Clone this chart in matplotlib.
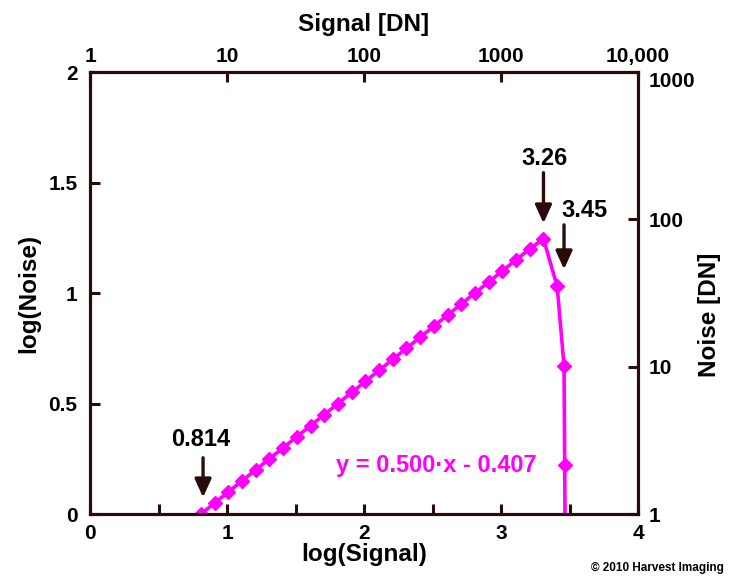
import matplotlib.pyplot as plt
from matplotlib.ticker import MultipleLocator

plt.rcParams['font.family'] = ['Liberation Sans', 'DejaVu Sans']
plt.rcParams['font.weight'] = 'bold'

# log(Signal) / log(Noise) points
log_signal = [0.81, 0.91, 1.01, 1.11, 1.21, 1.31, 1.41, 1.51, 1.61, 1.71,
              1.81, 1.91, 2.01, 2.11, 2.21, 2.31, 2.41, 2.51, 2.61, 2.71,
              2.81, 2.91, 3.01, 3.11, 3.21, 3.31, 3.41, 3.46, 3.465, 3.47]
log_noise = [0.0, 0.05, 0.10, 0.15, 0.20, 0.25, 0.30, 0.35, 0.40, 0.45,
             0.50, 0.55, 0.60, 0.65, 0.70, 0.75, 0.80, 0.85, 0.90, 0.95,
             1.00, 1.05, 1.10, 1.15, 1.20, 1.245, 1.03, 0.67, 0.22, -0.3]

top_ticks = [0, 1, 2, 3, 4]
top_labels = ['1', '10', '100', '1000', '10,000']
right_ticks = [0, 1, 2, 3]
right_labels = ['1', '10', '100', '1000']

# annotations: (label, arrow x, tail y, head y, text x, text y)
marks = [('0.814', 0.825, 0.267, 0.063, 0.81, 0.335),
         ('3.26', 3.31, 1.557, 1.303, 3.32, 1.61),
         ('3.45', 3.46, 1.321, 1.095, 3.61, 1.375)]

dark = '#2a0a0a'
mag = '#ff00ff'

fig = plt.figure(figsize=(7.38, 5.81), dpi=100)
ax = fig.add_axes([0.122, 0.1153, 0.7425, 0.7607])

ax.plot(log_signal, log_noise, color=mag, linewidth=2.6, marker='D',
        markersize=7, markerfacecolor=mag, markeredgecolor=mag, zorder=3)

ax.set_xlim(0, 4)
ax.set_ylim(0, 2)
ax.xaxis.set_major_locator(MultipleLocator(1))
ax.xaxis.set_minor_locator(MultipleLocator(0.5))
ax.set_yticks([0, 0.5, 1, 1.5, 2])
ax.set_yticklabels(['0', '0.5', '1', '1.5', '2'])
ax.tick_params(axis='both', which='both', direction='in', length=7,
               width=2.2, color=dark, labelsize=15)
ax.tick_params(axis='x', pad=7)
ax.tick_params(axis='y', pad=9)
ax.set_xlabel('log(Signal)', fontsize=17.5, fontweight='bold', labelpad=0)
ax.set_ylabel('log(Noise)', fontsize=17.5, fontweight='bold', labelpad=6)

for s in ax.spines.values():
    s.set_linewidth(2.2)
    s.set_color(dark)

# top axis: signal in DN
axt = ax.twiny()
axt.set_xlim(0, 4)
axt.set_xticks(top_ticks)
axt.set_xticklabels(top_labels)
axt.tick_params(axis='x', direction='in', length=7, width=2.2, color=dark,
                labelsize=15, pad=4)
axt.set_xlabel('Signal [DN]', fontsize=17.5, fontweight='bold', labelpad=12)

# right axis: noise in DN
axr = ax.twinx()
axr.set_ylim(0, 3)
axr.set_yticks(right_ticks)
rlabels = axr.set_yticklabels(right_labels)
rlabels[-1].set_verticalalignment('top')
axr.tick_params(axis='y', direction='in', length=7, width=2.2, color=dark,
                labelsize=15, pad=8)
axr.set_ylabel('Noise [DN]', fontsize=17.5, fontweight='bold')
axr.yaxis.set_label_coords(1.11, 0.45)
for a in (axt, axr):
    for s in a.spines.values():
        s.set_linewidth(2.2)
        s.set_color(dark)

for label, x, y0, y1, tx, ty in marks:
    ax.annotate('', xy=(x, y1), xytext=(x, y0),
                arrowprops=dict(arrowstyle='-|>,head_width=0.5,head_length=1.1',
                                color=dark, lw=2.4))
    ax.text(tx, ty, label, ha='center', va='center', fontsize=17,
            fontweight='bold', color='black')

ax.text(2.53, 0.22, 'y = 0.500\u00b7x - 0.407', color=mag, fontsize=17,
        fontweight='bold', ha='center', va='center')

fig.text(0.981, 0.022, '\u00a9 2010 Harvest Imaging', ha='right', va='center',
         fontsize=8.5, fontweight='bold', color='black')

fig.savefig('out.png', dpi=100)
